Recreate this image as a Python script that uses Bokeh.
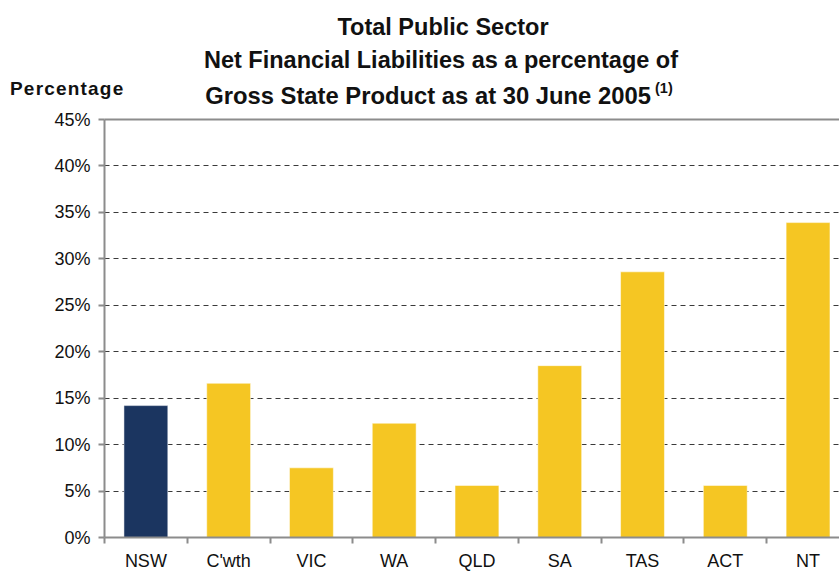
from bokeh.plotting import figure
from bokeh.models import ColumnDataSource, FixedTicker, LinearAxis, Range1d, Div
from bokeh.layouts import column
from bokeh.embed import file_html
from bokeh.resources import INLINE

# ---- data ----
categories = ["NSW", "C'wth", "VIC", "WA", "QLD", "SA", "TAS", "ACT", "NT"]
values = [14.2, 16.6, 7.5, 12.3, 5.6, 18.5, 28.6, 5.6, 33.9]
colors = ["#1b3560"] + ["#f5c623"] * 8
y_ticks = [0, 5, 10, 15, 20, 25, 30, 35, 40, 45]
title_lines = ["Total Public Sector",
               "Net Financial Liabilities as a percentage of",
               "Gross State Product as at 30 June 2005"]
footnote = "(1)"
y_label = "Percentage"

FONT = "Liberation Sans"
HEADER_H = 109

centers = [i + 0.5 for i in range(len(categories))]
bounds = [i for i in range(len(categories) + 1)]

src = ColumnDataSource(dict(x=centers, top=values, color=colors, cat=categories))

# ---- header (titles) ----
def span(txt, left, top, size, center=True, extra=""):
    tr = "translate(-50%,-50%)" if center else "translate(0,-50%)"
    return (f'<span style="position:absolute;left:{left}px;top:{top}px;transform:{tr};'
            f'white-space:nowrap;font-size:{size}px;line-height:1;{extra}">{txt}</span>')

header_html = (
    f'<div style="position:relative;width:839px;height:{HEADER_H}px;'
    f"font-family:'{FONT}';font-weight:bold;color:#111111;\">"
    + span(title_lines[0], 443, 28, 23.5)
    + span(title_lines[1], 441, 61, 23.5)
    + span(title_lines[2], 428, 96, 23.8)
    + span(footnote, 655, 88, 14.5, center=False)
    + span(y_label, 10, 88, 19, center=False, extra="letter-spacing:1.2px;")
    + "</div>"
)
header = Div(text=header_html, width=839, height=HEADER_H, margin=0)

# ---- chart ----
p = figure(width=839, height=573 - HEADER_H,
           x_range=Range1d(0, 8.88), y_range=Range1d(0, 45),
           output_backend="svg", toolbar_location=None,
           min_border_left=104, min_border_right=0,
           min_border_top=10, min_border_bottom=36, margin=0)

p.vbar(x="x", top="top", bottom=0, width=0.53, fill_color="color",
       line_color="white", line_alpha=0.5, line_width=1, source=src)

p.outline_line_color = None
p.background_fill_color = "white"
p.border_fill_color = "white"

# x axis
xa = p.xaxis[0]
xa.ticker = FixedTicker(ticks=centers, minor_ticks=bounds)
xa.major_label_overrides = {c: n for c, n in zip(centers, categories)}
xa.major_tick_out = 0
xa.major_tick_in = 0
xa.minor_tick_out = 6
xa.minor_tick_in = 0
xa.minor_tick_line_color = "#8c8c8c"
xa.minor_tick_line_width = 2
xa.axis_line_color = "#8c8c8c"
xa.axis_line_width = 2
xa.major_label_text_font = FONT
xa.major_label_text_font_size = "18px"
xa.major_label_text_color = "#111111"
xa.major_label_standoff = 7

# y axis
ya = p.yaxis[0]
ya.ticker = FixedTicker(ticks=y_ticks, minor_ticks=[])
ya.major_label_overrides = {t: f"{t}%" for t in y_ticks}
ya.major_tick_out = 6
ya.major_tick_in = 0
ya.major_tick_line_color = "#8c8c8c"
ya.major_tick_line_width = 2
ya.axis_line_color = "#8c8c8c"
ya.axis_line_width = 2
ya.major_label_text_font = FONT
ya.major_label_text_font_size = "18px"
ya.major_label_text_color = "#111111"
ya.major_label_standoff = 8

# top border line
top_axis = LinearAxis(ticker=FixedTicker(ticks=[]), major_tick_out=0, major_tick_in=0,
                      minor_tick_out=0, minor_tick_in=0,
                      major_label_text_font_size="0px", major_label_standoff=0,
                      axis_line_color="#8c8c8c", axis_line_width=2)
p.add_layout(top_axis, "above")

p.xgrid.grid_line_color = None
p.ygrid.ticker = FixedTicker(ticks=y_ticks[1:-1])
p.ygrid.grid_line_color = "#3a3a3a"
p.ygrid.grid_line_dash = "5 4"
p.ygrid.grid_line_width = 1

layout = column(header, p, spacing=0)
open("out.html", "w").write(file_html(layout, INLINE))
